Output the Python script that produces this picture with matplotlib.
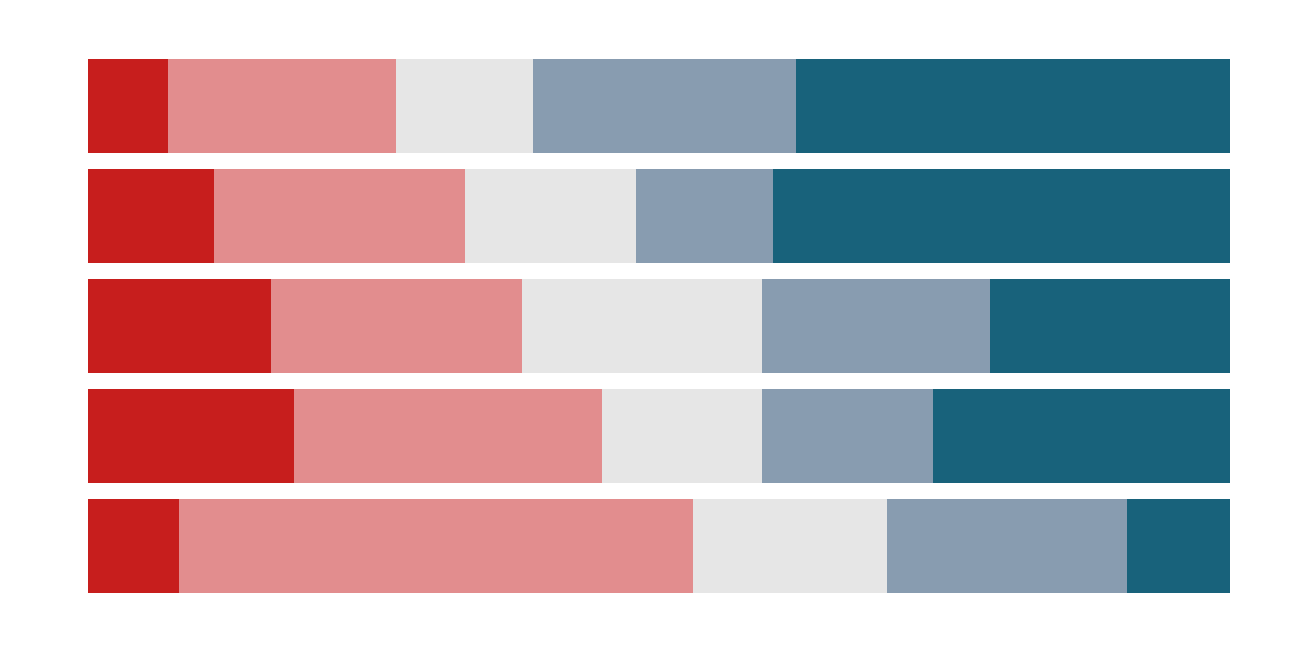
import matplotlib
matplotlib.use('Agg')
import matplotlib.pyplot as plt
import numpy as np

# shares per row, left to right (percent)
rows = ['A', 'B', 'C', 'D', 'E']
strong_no = [7, 11, 16, 18, 8]
no = [20, 22, 22, 27, 45]
neutral = [12, 15, 21, 14, 17]
yes = [23, 12, 20, 15, 21]
strong_yes = [38, 40, 21, 26, 9]

colors = ['#c71e1d', '#e28d8e', '#e6e6e6', '#889cb0', '#18627b']

fig = plt.figure(figsize=(13.15, 6.58), dpi=100)
ax = fig.add_axes([88/1315, (658-593)/658, 1142/1315, 534/658])

h = 94/110
y = np.arange(len(rows))
left = np.zeros(len(rows))
for vals, c in zip([strong_no, no, neutral, yes, strong_yes], colors):
    ax.barh(y, vals, left=left, height=h, color=c, linewidth=0)
    left += np.array(vals)

ax.set_xlim(0, 100)
ax.set_ylim(len(rows) - 1 + h/2, -h/2)
ax.axis('off')
fig.savefig('out.png', dpi=100)
